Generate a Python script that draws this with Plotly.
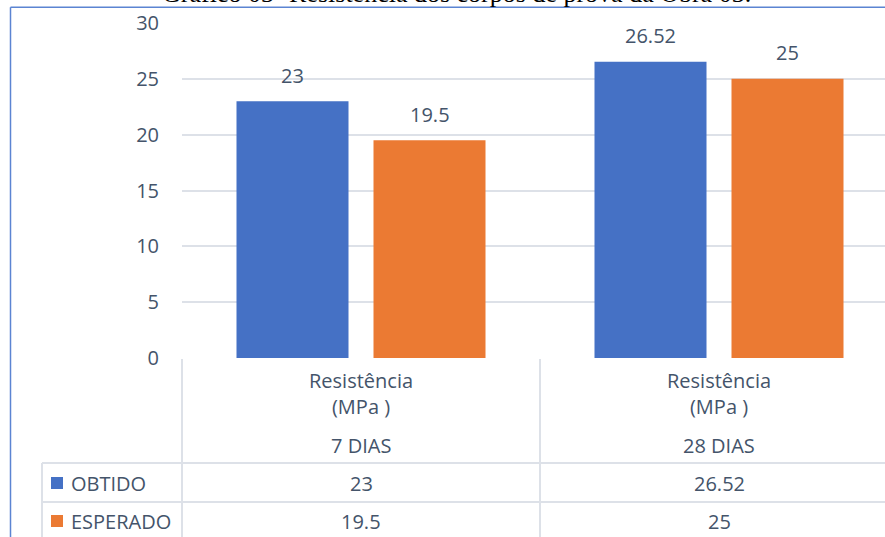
import plotly.graph_objects as go

# ---- data ----
categories = ["7 DIAS", "28 DIAS"]
metric_label = "Resistência<br>(MPa )"
series_names = ["OBTIDO", "ESPERADO"]
obtido = [23, 26.52]
esperado = [19.5, 25]
y_ticks = [0, 5, 10, 15, 20, 25, 30]
title_text = "Gráfico 03- Resistência dos corpos de prova da Obra 03."

# ---- style ----
W, H = 885, 537
FONT = "Open Sans"
TXT = "#44546a"
GRID = "#dde1e8"
COLORS = ["#4571c5", "#eb7a33"]
BARGAP = 0.2346
GROUPGAP = 0.1825


def py(pix):  # pixel row -> paper y
    return 1 - pix / H


def px(pix):  # pixel column -> paper x
    return pix / W


fig = go.Figure()
series_vals = [obtido, esperado]
for name, vals, col in zip(series_names, series_vals, COLORS):
    fig.add_trace(go.Bar(x=list(range(len(categories))), y=vals, name=name,
                         marker=dict(color=col, line=dict(width=0)),
                         hoverinfo="skip"))

band_px = 358
plot_left = 182
span = (W - plot_left) / band_px

annotations = []
slot = (1 - BARGAP) / len(series_names)
for j, vals in enumerate(series_vals):
    off = -(1 - BARGAP) / 2 + slot * (j + 0.5)
    for i, v in enumerate(vals):
        annotations.append(dict(x=i + off, y=v, xref="x", yref="y",
                                text=f"{v:g}", showarrow=False,
                                yanchor="middle", yshift=26,
                                font=dict(family=FONT, size=20, color=TXT)))

for i, cat in enumerate(categories):
    annotations.append(dict(x=i, y=py(393), xref="x", yref="paper",
                            text=metric_label, showarrow=False,
                            yanchor="middle", align="center",
                            font=dict(family=FONT, size=20, color=TXT)))
    annotations.append(dict(x=i, y=py(445), xref="x", yref="paper",
                            text=cat, showarrow=False, yanchor="middle",
                            font=dict(family=FONT, size=20, color=TXT)))
    for j, vals in enumerate(series_vals):
        annotations.append(dict(x=i, y=py(483 + 38 * j), xref="x", yref="paper",
                                text=f"{vals[i]:g}", showarrow=False,
                                yanchor="middle",
                                font=dict(family=FONT, size=20, color=TXT)))

shapes = []
for j, (name, col) in enumerate(zip(series_names, COLORS)):
    cy = 483 + 38 * j
    shapes.append(dict(type="rect", xref="paper", yref="paper",
                       x0=px(51), x1=px(63), y0=py(cy + 6), y1=py(cy - 6),
                       fillcolor=col, line=dict(width=0)))
    annotations.append(dict(x=px(69), y=py(cy), xref="paper", yref="paper",
                            text=name, showarrow=False, xanchor="left",
                            yanchor="middle",
                            font=dict(family=FONT, size=20, color=TXT)))

line = dict(color=GRID, width=2)
shapes.append(dict(type="line", xref="paper", yref="paper",
                   x0=px(182), x1=px(182), y0=py(359), y1=0, line=line))
shapes.append(dict(type="line", xref="x", yref="paper",
                   x0=0.5, x1=0.5, y0=py(359), y1=0, line=line))
shapes.append(dict(type="line", xref="paper", yref="paper",
                   x0=px(42), x1=px(42), y0=py(463), y1=0, line=line))
for yy in (463, 502):
    shapes.append(dict(type="line", xref="paper", yref="paper",
                       x0=px(42), x1=1, y0=py(yy), y1=py(yy), line=line))

frame = dict(color="#5b84d2", width=1.5)
shapes.append(dict(type="line", xref="paper", yref="paper",
                   x0=px(10.5), x1=1, y0=py(7.3), y1=py(7.3), line=frame))
shapes.append(dict(type="line", xref="paper", yref="paper",
                   x0=px(10.5), x1=px(10.5), y0=py(7.3), y1=0, line=frame))

annotations.append(dict(x=px(456), y=py(10), xref="paper", yref="paper",
                        text=title_text, showarrow=False, yanchor="bottom",
                        font=dict(family="Liberation Serif", size=26, color="#000000")))

fig.update_layout(
    width=W, height=H,
    margin=dict(l=0, r=0, t=0, b=0, pad=0, autoexpand=False),
    paper_bgcolor="white", plot_bgcolor="white",
    barmode="group", bargap=BARGAP, bargroupgap=GROUPGAP,
    showlegend=False,
    xaxis=dict(domain=[px(plot_left), 1], range=[-0.5, -0.5 + span],
               showticklabels=False, showgrid=False, zeroline=False,
               showline=False, ticks="", automargin=False),
    yaxis=dict(domain=[py(358), py(23)], range=[0, 30],
               tickvals=y_ticks, ticks="", showline=False,
               showgrid=True, gridcolor=GRID, gridwidth=2, zeroline=False,
               ticklabelstandoff=22, automargin=False,
               tickfont=dict(family=FONT, size=20, color=TXT)),
    annotations=annotations, shapes=shapes,
)

fig.write_html("out.html")
